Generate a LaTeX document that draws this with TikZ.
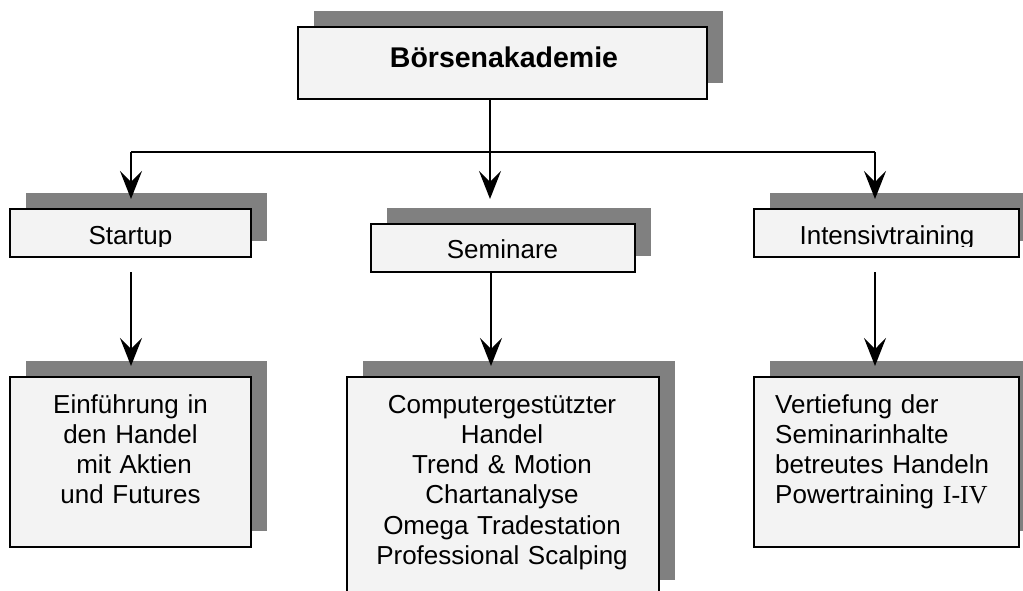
\documentclass[tikz,border=0pt]{standalone}
\usepackage{fontspec}
\setmainfont{Liberation Sans}
\newfontfamily\timesf{Liberation Serif}
\usetikzlibrary{arrows.meta,shadows}
\definecolor{boxfill}{RGB}{243,243,243}
\definecolor{shade}{RGB}{128,128,128}
\begin{document}
\begin{tikzpicture}[x=1pt,y=-1pt,
  box/.style={draw=black, line width=1.8pt, fill=boxfill, rectangle, inner sep=0pt,
    drop shadow={shadow xshift=16pt, shadow yshift=16pt, fill=shade, opacity=1}},
  lbl/.style={font=\fontsize{26}{30.3}\selectfont, inner sep=0pt, anchor=base},
  conn/.style={line width=1.8pt, draw=black},
  arr/.style={conn, -{Stealth[length=28pt,width=22pt,inset=11pt]}}]
\clip (0,0) rectangle (1023,591);
% boxes
\node[box, minimum width=409pt, minimum height=72pt] (top) at (502.5,63) {};
\node[box, minimum width=241pt, minimum height=48pt] (startup) at (130.5,233) {};
\node[box, minimum width=264pt, minimum height=48pt] (seminare) at (503,248) {};
\node[box, minimum width=265pt, minimum height=48pt] (intensiv) at (886.5,233) {};
\node[box, minimum width=241pt, minimum height=170pt] (einf) at (130.5,462) {};
\node[box, minimum width=312pt, minimum height=219pt] (comp) at (503,486.5) {};
\node[box, minimum width=265pt, minimum height=170pt] (vert) at (886.5,462) {};
% texts
\node[lbl, font=\fontsize{28.5}{32}\selectfont\bfseries] (ttop) at (504,68) {Börsenakademie};
\begin{scope}
\clip (20,212) rectangle (240,246);
\node[lbl] (tstartup) at (130.5,244) {Startup};
\end{scope}
\node[lbl] (tseminare) at (502.5,258) {Seminare};
\begin{scope}
\clip (760,212) rectangle (1012,246);
\node[lbl] (tintensiv) at (887,244) {Intensivtraining};
\end{scope}
\node[lbl, text width=235pt, align=center] (teinf) at (130.5,413)
  {Einführung in\\den Handel\\\hspace*{0.278em}mit Aktien\\und Futures};
\node[lbl, text width=300pt, align=center] (tcomp) at (502,413)
  {Computergestützter\\Handel\\Trend \& Motion\\Chartanalyse\\Omega Tradestation\\Professional Scalping};
\node[lbl, anchor=base west, text width=240pt, align=left] (tvert) at (775,413)
  {Vertiefung der\\Seminarinhalte\\betreutes Handeln\\Powertraining {\timesf I-IV}};
% connector coordinates
\coordinate (j1) at (131,152);
\coordinate (j2) at (490,152);
\coordinate (j3) at (875,152);
\coordinate (e1) at (131,199);
\coordinate (e2) at (490,199);
\coordinate (e3) at (875,199);
\coordinate (l1) at (131,272);
\coordinate (l2) at (491,272);
\coordinate (l3) at (875,272);
\coordinate (m1) at (131,366);
\coordinate (m2) at (491,366);
\coordinate (m3) at (875,366);
% connectors
\draw[conn] (top.south -| j2) -- (j2);
\draw[conn] (j1) -- (j3);
\draw[arr] (j1) -- (e1);
\draw[arr] (j2) -- (e2);
\draw[arr] (j3) -- (e3);
\draw[arr] (l1) -- (m1);
\draw[arr] (l2) -- (m2);
\draw[arr] (l3) -- (m3);
\end{tikzpicture}
\end{document}
